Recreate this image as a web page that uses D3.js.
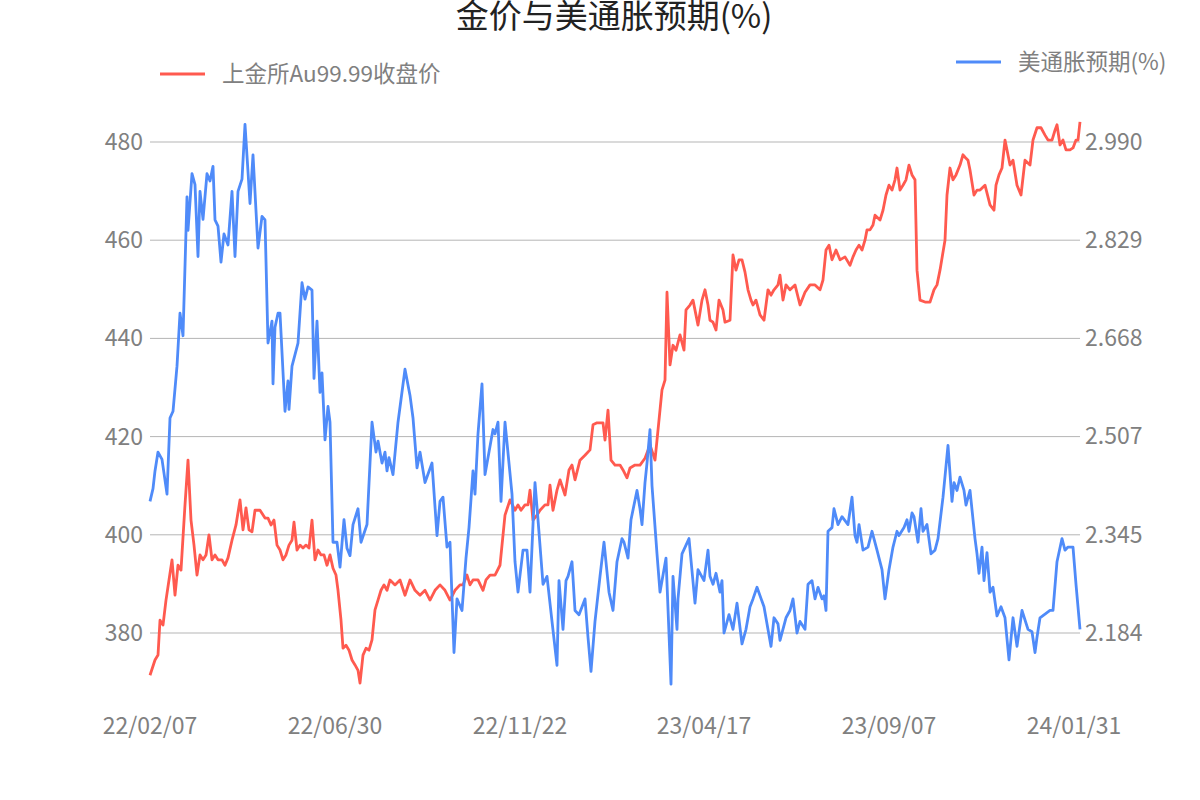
<!DOCTYPE html>
<html><head><meta charset="utf-8">
<script src="https://cdn.jsdelivr.net/npm/d3@7"></script>
<style>body{margin:0;background:#fff}svg{font-family:"Noto Sans CJK SC","Noto Sans",sans-serif}</style>
</head><body><svg id="c" width="1200" height="800"></svg>
<script>
const dateLabels=["22/02/07","22/06/30","22/11/22","23/04/17","23/09/07","24/01/31"];
const datePos=[0,185,370,554,739,924];
const leftTicks=[380,400,420,440,460,480];
const rightTicks=[2.184,2.345,2.507,2.668,2.829,2.990];
const goldPos=[0,5,8,10,13,16,19,22,25,28,31,35,38,41,44,47,50,53,56,59,62,65,68,72,75,78,82,86,90,93,96,99,102,105,110,115,118,121,124,127,130,133,136,139,142,144,147,150,153,156,159,162,165,168,171,174,177,180,183,186,188,191,193,196,199,202,205,208,210,213,216,219,222,225,228,231,234,237,240,245,250,255,260,265,270,275,280,285,290,295,300,305,310,313,317,320,323,328,333,336,340,345,350,355,360,365,368,371,375,378,380,383,387,390,395,398,400,403,407,410,415,419,422,425,430,435,440,443,447,453,455,458,461,465,470,473,477,480,485,490,495,500,505,508,512,515,517,520,523,526,530,534,536,540,543,548,552,555,558,560,563,566,569,573,575,580,583,586,589,592,595,598,601,603,606,610,614,618,621,624,628,630,633,636,640,645,650,655,660,665,670,673,676,679,682,686,690,695,700,703,706,709,712,715,717,720,723,725,730,733,736,739,742,745,747,750,753,756,759,762,765,767,770,775,778,780,784,787,790,795,797,800,803,806,810,813,815,818,820,824,827,830,835,840,844,846,849,852,855,860,863,867,871,875,880,883,887,891,895,898,902,905,907,910,913,916,918,920,923,926,928,930];
const goldVal=[371.4,374.5,375.5,382.6,381.6,386.7,390.8,394.9,387.7,393.8,392.8,406.1,415.2,403.0,397.9,391.8,395.9,394.9,395.9,400.0,394.9,395.9,394.9,394.9,393.8,395.3,398.9,402.0,407.1,401.0,405.5,401.0,400.6,405.0,405.0,403.4,403.4,402.0,403.0,397.9,396.9,394.9,395.9,397.9,398.9,402.6,396.9,397.9,397.3,397.9,397.3,403.0,394.9,396.9,395.9,395.9,393.8,395.9,393.2,391.8,388.7,382.6,376.9,377.5,376.5,374.5,373.5,372.4,369.8,375.5,376.9,376.5,378.6,384.7,386.7,388.7,389.8,388.7,390.8,389.8,390.8,387.7,390.8,388.7,387.7,388.7,386.7,388.7,389.8,388.7,386.7,388.7,389.8,389.8,391.8,389.8,390.8,390.8,388.7,390.8,391.8,391.8,393.8,404.0,407.1,405.0,406.1,405.0,406.1,406.1,409.1,403.0,404.0,405.0,406.1,406.1,410.1,405.0,409.1,411.2,408.1,413.2,414.2,411.2,415.2,416.2,417.3,422.4,422.8,422.8,419.3,425.4,415.2,414.2,414.2,413.2,411.6,413.6,414.2,414.2,415.6,418.3,415.2,421.3,429.5,431.5,449.4,434.6,438.6,437.6,440.7,437.6,445.8,446.8,447.8,442.7,447.8,449.9,446.8,443.7,443.3,441.7,447.8,445.8,443.3,443.7,457.0,453.9,456.0,456.0,453.5,449.9,447.8,446.8,447.8,444.8,443.7,449.9,448.8,449.9,450.9,452.9,447.8,450.9,449.9,450.9,446.8,449.4,450.9,450.9,449.9,451.9,458.0,459.0,456.0,458.0,456.0,456.6,454.9,456.6,458.0,459.0,458.0,460.0,462.1,462.1,463.1,465.1,464.1,466.1,469.2,471.2,470.2,472.3,474.7,470.2,471.2,472.3,475.3,473.3,472.3,453.9,447.8,447.4,447.4,447.4,449.9,450.9,453.9,460.0,469.2,474.7,472.3,473.3,475.3,477.4,476.9,476.3,474.3,469.2,470.2,470.2,471.2,467.2,466.1,471.2,473.3,474.7,480.4,475.3,476.3,471.2,469.2,476.3,475.3,480.4,482.9,482.9,481.4,480.4,480.4,482.4,483.5,479.4,480.4,478.4,478.4,478.4,478.8,480.4,480.4,484.1,480.4];
const inflPos=[0,3,5,8,12,17,20,23,27,30,33,37,38,42,45,48,50,53,57,60,63,65,68,71,74,78,82,85,88,92,95,100,103,108,112,115,118,122,123,125,128,130,135,138,139,142,148,152,155,158,162,164,167,170,172,175,178,180,183,187,190,194,197,200,203,208,211,217,222,226,228,232,235,237,239,243,248,255,260,263,267,270,275,282,287,290,293,297,300,304,307,312,316,319,323,325,328,332,335,343,345,348,351,355,362,365,368,373,377,380,383,385,388,393,397,402,407,409,413,416,418,422,425,429,435,438,441,445,450,454,459,463,467,472,474,478,481,487,490,492,495,497,500,502,507,510,516,521,523,527,528,532,539,545,548,554,558,560,563,566,570,572,574,579,583,587,592,596,600,603,607,614,621,624,628,630,636,640,643,647,650,655,658,662,665,668,672,674,676,678,682,684,688,692,698,702,705,707,709,713,718,722,727,732,735,739,743,747,749,754,757,759,762,764,768,771,773,777,781,785,788,793,798,802,804,807,810,814,816,820,825,827,829,832,834,837,840,843,847,851,855,859,863,867,872,878,882,885,887,890,900,903,907,912,915,918,923,926,930];
const inflVal=[2.400,2.421,2.450,2.481,2.469,2.412,2.537,2.548,2.622,2.709,2.672,2.900,2.845,2.938,2.920,2.802,2.909,2.863,2.938,2.926,2.950,2.862,2.852,2.793,2.839,2.821,2.909,2.802,2.909,2.929,3.019,2.889,2.969,2.816,2.868,2.862,2.660,2.696,2.593,2.686,2.709,2.709,2.548,2.598,2.551,2.622,2.660,2.759,2.732,2.752,2.747,2.602,2.696,2.579,2.611,2.501,2.556,2.530,2.333,2.333,2.292,2.370,2.323,2.311,2.362,2.388,2.333,2.362,2.530,2.481,2.499,2.463,2.481,2.450,2.472,2.444,2.530,2.617,2.574,2.537,2.455,2.481,2.431,2.463,2.344,2.400,2.407,2.325,2.333,2.152,2.240,2.221,2.307,2.357,2.450,2.412,2.511,2.593,2.444,2.518,2.511,2.530,2.400,2.530,2.412,2.301,2.251,2.320,2.320,2.251,2.362,2.431,2.370,2.264,2.277,2.203,2.131,2.270,2.190,2.270,2.277,2.301,2.221,2.214,2.240,2.177,2.121,2.203,2.277,2.333,2.251,2.221,2.301,2.339,2.333,2.307,2.370,2.418,2.388,2.362,2.431,2.463,2.518,2.426,2.314,2.251,2.307,2.100,2.277,2.190,2.240,2.314,2.339,2.233,2.288,2.270,2.320,2.277,2.264,2.282,2.251,2.270,2.184,2.214,2.190,2.233,2.166,2.190,2.227,2.240,2.259,2.227,2.162,2.209,2.199,2.172,2.209,2.221,2.240,2.184,2.203,2.190,2.264,2.270,2.240,2.259,2.240,2.245,2.221,2.351,2.357,2.388,2.362,2.375,2.362,2.407,2.344,2.333,2.362,2.320,2.325,2.351,2.320,2.288,2.240,2.288,2.325,2.351,2.344,2.357,2.370,2.351,2.381,2.375,2.333,2.388,2.351,2.362,2.314,2.320,2.339,2.407,2.492,2.400,2.431,2.418,2.440,2.418,2.394,2.418,2.339,2.314,2.282,2.325,2.270,2.316,2.251,2.259,2.212,2.227,2.209,2.140,2.209,2.162,2.221,2.190,2.186,2.152,2.177,2.209,2.221,2.221,2.301,2.339,2.320,2.325,2.325,2.264,2.190,2.270];

const svg=d3.select("#c");
const x=d3.scaleLinear().domain([0,930]).range([150,1080]);
const yL=d3.scaleLinear().domain([380,480]).range([633,142]);
const yR=d3.scaleLinear().domain([2.184,2.990]).range([633,142]);
const grey="#808080";
svg.append("g").selectAll("line").data(leftTicks).join("line")
 .attr("x1",150).attr("x2",1080).attr("y1",d=>yL(d)).attr("y2",d=>yL(d))
 .attr("stroke","#b5b5b5").attr("stroke-width",1);
svg.append("g").selectAll("text").data(leftTicks).join("text")
 .attr("x",143).attr("y",d=>yL(d)).attr("dy","0.35em").attr("text-anchor","end")
 .attr("font-size",23).attr("fill",grey).text(d=>d);
svg.append("g").selectAll("text").data(rightTicks).join("text")
 .attr("x",1085).attr("y",d=>yR(d)).attr("dy","0.35em").attr("text-anchor","start")
 .attr("font-size",23).attr("fill",grey).text(d=>d.toFixed(3));
svg.append("g").selectAll("text").data(dateLabels).join("text")
 .attr("x",(d,i)=>x(datePos[i])).attr("y",734).attr("text-anchor","middle")
 .attr("font-size",23).attr("fill",grey).text(d=>d);
const lg=d3.line().x(d=>x(d[0])).y(d=>yL(d[1]));
const lb=d3.line().x(d=>x(d[0])).y(d=>yR(d[1]));
svg.append("path").datum(goldPos.map((p,i)=>[p,goldVal[i]])).attr("d",lg)
 .attr("fill","none").attr("stroke","#ff5a4f").attr("stroke-width",2.8).attr("stroke-linejoin","round");
svg.append("path").datum(inflPos.map((p,i)=>[p,inflVal[i]])).attr("d",lb)
 .attr("fill","none").attr("stroke","#4f8bf9").attr("stroke-width",2.8).attr("stroke-linejoin","round");
svg.append("text").attr("x",614).attr("y",28).attr("text-anchor","middle")
 .attr("font-size",33).attr("fill","#222").text("金价与美通胀预期(%)");
svg.append("line").attr("x1",160).attr("x2",205).attr("y1",74).attr("y2",74).attr("stroke","#ff5a4f").attr("stroke-width",3);
svg.append("text").attr("x",222).attr("y",74).attr("dy","0.35em").attr("font-size",22.5).attr("fill",grey).text("上金所Au99.99收盘价");
svg.append("line").attr("x1",956).attr("x2",1001).attr("y1",62).attr("y2",62).attr("stroke","#4f8bf9").attr("stroke-width",3);
svg.append("text").attr("x",1018).attr("y",62).attr("dy","0.35em").attr("font-size",22.5).attr("fill",grey).text("美通胀预期(%)");
</script></body></html>
